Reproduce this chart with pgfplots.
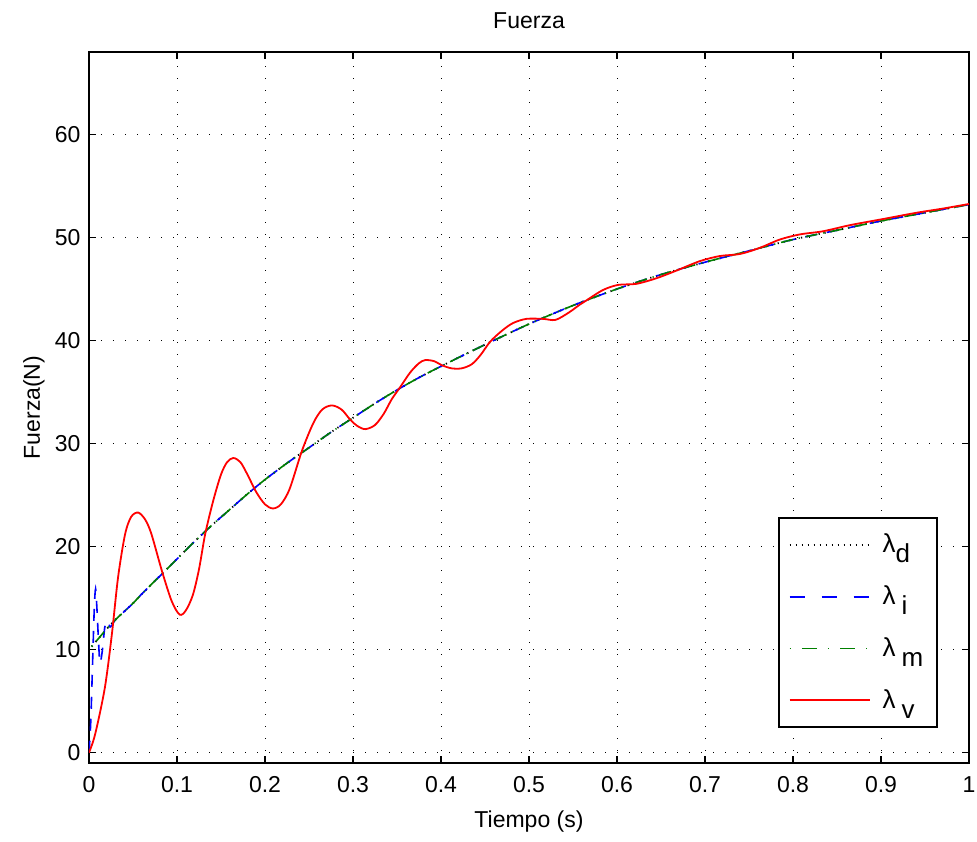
\documentclass[border=0pt]{standalone}
\usepackage{fontspec}
\setmainfont{Liberation Sans}
\usepackage{pgfplots}
\pgfplotsset{compat=1.18}
\definecolor{mblue}{rgb}{0,0,1}
\definecolor{mgreen}{rgb}{0,0.5,0}
\definecolor{mred}{rgb}{1,0,0}
\pgfplotstableread{
x y
0.003 10.3
0.01 11.0
0.02 12.0
0.03 12.9
0.04 13.7
0.05 14.5
0.06 15.4
0.08 17.1
0.10 18.8
0.12 20.5
0.14 22.1
0.16 23.6
0.18 25.1
0.20 26.5
0.225 28.1
0.25 29.6
0.275 31.1
0.30 32.5
0.325 33.9
0.35 35.2
0.375 36.4
0.40 37.5
0.45 39.6
0.50 41.6
0.55 43.4
0.60 45.0
0.65 46.4
0.70 47.6
0.75 48.7
0.80 49.8
0.85 50.7
0.90 51.6
0.95 52.4
1.00 53.2
}\maintab
\pgfplotstableread{
x y
0 0
0.002 3
0.004 8.5
0.006 14
0.0075 15.9
0.009 14
0.011 10.5
0.0125 8.7
0.015 9.8
0.018 12.2
0.021 12.8
0.024 12.2
0.027 12.5
0.03 12.9
0.04 13.7
0.05 14.5
0.06 15.4
0.08 17.1
0.10 18.8
0.12 20.5
0.14 22.1
0.16 23.6
0.18 25.1
0.20 26.5
0.225 28.1
0.25 29.6
0.275 31.1
0.30 32.5
0.325 33.9
0.35 35.2
0.375 36.4
0.40 37.5
0.45 39.6
0.50 41.6
0.55 43.4
0.60 45.0
0.65 46.4
0.70 47.6
0.75 48.7
0.80 49.8
0.85 50.7
0.90 51.6
0.95 52.4
1.00 53.2
}\itab
\pgfplotstableread{
x y
0 0
0.007 1.8
0.018 6.3
0.026 11.5
0.033 17.0
0.041 21.2
0.048 22.9
0.056 23.3
0.064 22.6
0.071 21.2
0.083 17.6
0.094 14.7
0.103 13.4
0.11 13.8
0.118 15.3
0.125 17.8
0.132 21.2
0.141 24.4
0.15 27.0
0.157 28.2
0.164 28.6
0.172 28.2
0.18 27.0
0.19 25.3
0.2 24.1
0.209 23.7
0.218 24.1
0.228 25.6
0.242 29.3
0.255 32.0
0.265 33.3
0.276 33.7
0.287 33.3
0.297 32.3
0.305 31.7
0.314 31.4
0.325 31.8
0.335 32.9
0.344 34.3
0.353 35.4
0.365 36.9
0.375 37.8
0.382 38.1
0.392 38.0
0.401 37.6
0.412 37.3
0.4235 37.3
0.435 37.7
0.445 38.6
0.456 39.9
0.47 41.0
0.482 41.7
0.497 42.1
0.516 42.1
0.53 42.0
0.545 42.7
0.558 43.5
0.5636 43.8
0.584 44.9
0.6015 45.4
0.622 45.5
0.645 46.05
0.668 46.8
0.694 47.7
0.717 48.2
0.74 48.4
0.7625 49.0
0.785 49.8
0.808 50.3
0.834 50.6
0.865 51.2
0.903 51.8
0.9405 52.4
0.97 52.8
1.0 53.25
}\vtab
\begin{document}
\begin{tikzpicture}
\begin{axis}[name=ax,
  scale only axis, width=440pt, height=355.5pt,
  xmin=0, xmax=1, ymin=-1, ymax=68,
  xtick={0,0.1,0.2,0.3,0.4,0.5,0.6,0.7,0.8,0.9,1},
  xticklabels={0,0.1,0.2,0.3,0.4,0.5,0.6,0.7,0.8,0.9,1},
  ytick={0,10,20,30,40,50,60},
  tick align=inside, major tick length=3.5pt,
  tick style={black, line width=0.6pt},
  grid=major,
  major grid style={black, line width=0.5pt, dash pattern=on 0.6pt off 5.4pt},
  axis line style={line width=0.8pt},
  /pgf/number format/assume math mode=true,
  tick label style={font=\fontsize{11.5}{13}\selectfont},
  xticklabel style={yshift=-3.2pt},
  yticklabel style={xshift=-0.7pt},
  title={Fuerza},
  title style={font=\fontsize{11.5}{13}\selectfont, at={(axis description cs:0.5,1.006)}, anchor=south},
  xlabel={Tiempo (s)},
  xlabel style={font=\fontsize{11.5}{13}\selectfont, at={(axis description cs:0.5,-0.058)}, anchor=north},
  ylabel={Fuerza(N)},
  ylabel style={font=\fontsize{11.5}{13}\selectfont, at={(axis description cs:-0.0425,0.5)}, anchor=south, rotate=0},
  legend cell align=left,
  legend style={at={(axis description cs:0.9648,0.0492)}, anchor=south east,
    draw=black, line width=0.8pt, font=\fontsize{13}{15}\selectfont,
    inner xsep=5pt, inner ysep=6pt, row sep=11pt},
]
\addplot[black, line width=0.9pt, dash pattern=on 0.6pt off 2.4pt, smooth,
  legend image code/.code={\draw[black, line width=0.9pt, dash pattern=on 0.6pt off 2.4pt] (2pt,0pt) -- (42pt,0pt);}] table[x=x,y=y] {\maintab};
\addlegendentry{\hspace{4pt}λ\raisebox{-5pt}{d}}
\addplot[mblue, line width=0.8pt, dash pattern=on 6pt off 5pt, smooth,
  legend image code/.code={\draw[mblue, line width=0.9pt, dash pattern=on 7.5pt off 8.5pt] (2pt,0pt) -- (42pt,0pt);}] table[x=x,y=y] {\itab};
\addlegendentry{\hspace{4pt}λ\hspace{3pt}\raisebox{-5pt}{i}}
\addplot[mgreen, line width=0.8pt, dash pattern=on 0.6pt off 3pt on 6pt off 3pt, smooth,
  legend image code/.code={\draw[mgreen, line width=0.9pt, dash pattern=on 0.6pt off 5.5pt on 7.5pt off 5.5pt] (2pt,0pt) -- (42pt,0pt);}] table[x=x,y=y] {\maintab};
\addlegendentry{\hspace{4pt}λ\hspace{3pt}\raisebox{-5pt}{m}}
\addplot[mred, line width=0.9pt, smooth,
  legend image code/.code={\draw[mred, line width=0.9pt] (2pt,0pt) -- (42pt,0pt);}] table[x=x,y=y] {\vtab};
\addlegendentry{\hspace{4pt}λ\hspace{3pt}\raisebox{-5pt}{v}}
\end{axis}
\pgfresetboundingbox
\path ([shift={(-44.5pt,-39.5pt)}]ax.south west) rectangle ([shift={(4pt,26pt)}]ax.north east);
\end{tikzpicture}
\end{document}
